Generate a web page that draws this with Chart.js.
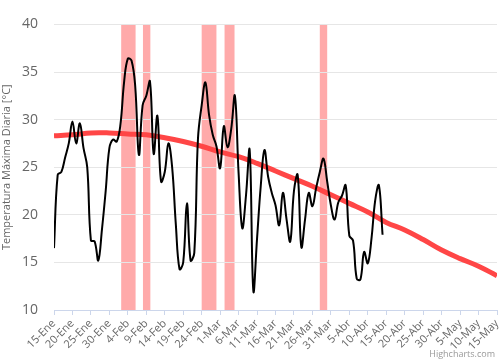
<!DOCTYPE html>
<html>
<head>
<meta charset="utf-8">
<script src="https://cdn.jsdelivr.net/npm/chart.js@4/dist/chart.umd.min.js"></script>
<style>
  body { margin: 0; background: #fff; }
  canvas { display: block; }
</style>
</head>
<body>
<canvas id="tempChart" width="500" height="363"></canvas>
<script>
// tick labels, one every 5 days starting 15-Ene (day 0)
var tickLabels = ['15-Ene', '20-Ene', '25-Ene', '30-Ene', '4-Feb', '9-Feb', '14-Feb', '19-Feb', '24-Feb',
  '1-Mar', '6-Mar', '11-Mar', '16-Mar', '21-Mar', '26-Mar', '31-Mar', '5-Abr', '10-Abr', '15-Abr',
  '20-Abr', '25-Abr', '30-Abr', '5-May', '10-May', '15-May'];

// daily maximum temperature, one value per day from 15-Ene
var maxTemp = [16.5, 24.2, 24.5, 26.0, 27.5, 29.8, 27.5, 29.6, 27.0, 25.0,
  17.3, 17.2, 15.2, 18.5, 22.5, 27.0, 27.9, 27.7, 29.5, 34.0,
  36.4, 36.2, 33.5, 26.3, 31.5, 32.5, 34.0, 26.4, 30.4, 23.5,
  24.5, 27.5, 25.0, 19.0, 14.3, 15.0, 21.2, 15.2, 16.0, 28.0,
  31.5, 33.9, 30.5, 28.4, 27.2, 24.9, 29.3, 27.1, 29.0, 32.5,
  24.4, 18.6, 22.0, 26.8, 12.0, 17.5, 23.0, 26.8, 24.0, 22.3,
  21.0, 18.9, 22.3, 19.5, 17.2, 22.5, 24.2, 16.6, 19.5, 22.3,
  20.9, 22.8, 24.5, 25.9, 23.5, 21.0, 19.5, 21.3, 22.0, 23.1,
  17.8, 17.3, 13.3, 13.2, 16.1, 14.9, 17.5, 21.5, 23.1, 17.9];

// climatological mean, sampled every 5 days
var climDays = [0, 5, 10, 15, 20, 25, 30, 35, 40, 45, 50, 55, 60, 65, 70, 75, 80, 85, 90, 95, 100, 105, 110, 115, 120];
var climTemp = [28.3, 28.4, 28.6, 28.6, 28.5, 28.4, 28.1, 27.7, 27.2, 26.6, 26.1, 25.4, 24.6,
  23.8, 23.0, 22.1, 21.2, 20.3, 19.2, 18.4, 17.4, 16.3, 15.4, 14.6, 13.6];

// highlighted periods (day offsets)
var bandFrom = [18.2, 24.1, 40.0, 46.2, 72.0];
var bandTo   = [22.1, 26.1, 44.0, 48.9, 74.0];

var font = "'Open Sans', 'DejaVu Sans', sans-serif";

var bandsPlugin = {
  id: 'bands',
  beforeDraw: function (chart) {
    var c = chart.ctx, x = chart.scales.x, a = chart.chartArea;
    c.save();
    c.fillStyle = '#ffaaaa';
    for (var i = 0; i < bandFrom.length; i++) {
      var x0 = x.getPixelForValue(bandFrom[i]);
      var x1 = x.getPixelForValue(bandTo[i]);
      c.fillRect(x0, a.top, x1 - x0, a.bottom - a.top);
    }
    c.restore();
  },
  afterDraw: function (chart) {
    var c = chart.ctx;
    c.save();
    c.font = '9px ' + font;
    c.fillStyle = '#999';
    c.textAlign = 'right';
    c.textBaseline = 'alphabetic';
    c.fillText('Highcharts.com', 495, 357);
    c.restore();
  }
};

var ctx = document.getElementById('tempChart').getContext('2d');
var chart = new Chart(ctx, {
  type: 'line',
  data: {
    datasets: [{
      label: 'Máxima',
      data: maxTemp.map(function (v, i) { return { x: i, y: v }; }),
      borderColor: '#000',
      borderWidth: 2,
      pointRadius: 0,
      tension: 0.4,
      order: 0
    }, {
      label: 'Media',
      data: climTemp.map(function (v, i) { return { x: climDays[i], y: v }; }),
      borderColor: '#ff4646',
      borderWidth: 5,
      pointRadius: 0,
      tension: 0.4,
      order: 1
    }]
  },
  options: {
    responsive: false,
    animation: false,
    layout: { padding: { top: 24, right: 3, left: 0, bottom: 0 } },
    plugins: { legend: { display: false }, tooltip: { enabled: false } },
    scales: {
      x: {
        type: 'linear',
        min: 0,
        max: 120,
        afterFit: function (s) { s.height = 53; s.paddingLeft = 0; s.paddingRight = 0; },
        afterBuildTicks: function (s) {
          s.ticks = tickLabels.map(function (t, i) { return { value: i * 5 }; });
        },
        ticks: {
          autoSkip: false,
          minRotation: 45,
          maxRotation: 45,
          padding: 2,
          color: '#666',
          font: { family: font, size: 11 },
          callback: function (v) { return tickLabels[Math.round(v / 5)]; }
        },
        grid: { drawOnChartArea: false, tickLength: 5, color: '#ccd6eb' },
        border: { color: '#ccd6eb' }
      },
      y: {
        min: 10,
        max: 40,
        afterFit: function (s) { s.width = 54; },
        ticks: {
          stepSize: 5,
          padding: 16,
          color: '#666',
          font: { family: font, size: 14 }
        },
        grid: { color: '#e6e6e6', drawTicks: false },
        border: { display: false },
        title: {
          display: true,
          text: 'Temperatura Máxima Diaria [°C]',
          color: '#666',
          font: { family: font, size: 11 },
          padding: { top: 0, bottom: 2 }
        }
      }
    }
  },
  plugins: [bandsPlugin]
});
</script>
</body>
</html>
